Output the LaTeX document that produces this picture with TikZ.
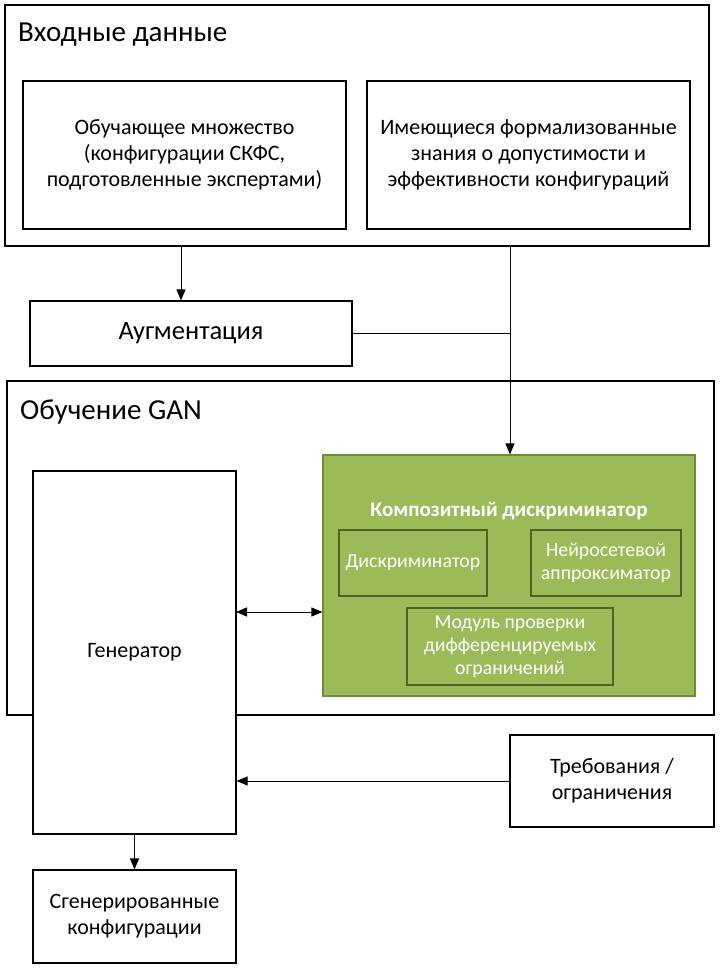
\documentclass[tikz,border=0pt]{standalone}
\usepackage{fontspec}
\setmainfont{Carlito}
\usetikzlibrary{arrows.meta}
\definecolor{gfill}{HTML}{9BBB59}
\definecolor{gdraw}{HTML}{71893F}
\definecolor{gin}{HTML}{4F6228}
\tikzset{
  box/.style={draw=black, line width=1.2pt, fill=white, inner sep=0pt, align=center,
    font=\fontsize{22}{26}\selectfont},
  frame/.style={draw=black, line width=1.2pt, inner sep=0pt},
  ttl/.style={anchor=west, inner sep=0pt, font=\fontsize{29}{32}\selectfont},
  gbox/.style={draw=gin, line width=1.2pt, fill=gfill, inner sep=0pt, align=center,
    text=white, font=\fontsize{19.8}{23}\selectfont},
  arr/.style={line width=1pt, -{Triangle[length=11pt,width=9pt]}},
  arrtwo/.style={line width=1pt, {Triangle[length=11pt,width=9pt]}-{Triangle[length=11pt,width=9pt]}},
  ln/.style={line width=1pt}
}
\begin{document}
\begin{tikzpicture}[x=1pt,y=-1pt]
\useasboundingbox (0,0) rectangle (721,970);
% Input frame
\node[frame, minimum width=704, minimum height=241] (inp) at (357,125.5) {};
\node[ttl] (inpt) at (18,35) {Входные данные};
\node[box, minimum width=323, minimum height=148] (b1) at (184.5,155) {Обучающее множество\\(конфигурации СКФС,\\подготовленные экспертами)};
\node[box, minimum width=323, minimum height=148] (b2) at (528.5,155) {Имеющиеся формализованные\\знания о допустимости и\\эффективности конфигураций};
% Augmentation
\node[box, minimum width=322, minimum height=65, font=\fontsize{26.5}{30}\selectfont] (aug) at (191,333.5) {Аугментация};
% GAN frame
\node[frame, minimum width=707, minimum height=334] (gan) at (360.5,548) {};
\node[ttl] (gant) at (20,411.5) {Обучение GAN};
\node[box, minimum width=203, minimum height=363] (gen) at (134.5,652.5) {Генератор};
% composite discriminator
\node[draw=gdraw, fill=gfill, line width=1.2pt, inner sep=0pt, minimum width=372, minimum height=241] (comp) at (509,575.5) {};
\node[inner sep=0pt, text=white, font=\bfseries\fontsize{21}{24}\selectfont] (compt) at (509,511) {Композитный дискриминатор};
\node[gbox, minimum width=148, minimum height=66] (d1) at (413,563) {Дискриминатор};
\node[gbox, minimum width=150, minimum height=66] (d2) at (606,563) {Нейросетевой\\аппроксиматор};
\node[gbox, minimum width=206, minimum height=77] (d3) at (510,646.5) {Модуль проверки\\дифференцируемых\\ограничений};
% requirements
\node[box, minimum width=204, minimum height=92] (req) at (612,781) {Требования /\\ограничения};
% output
\node[box, minimum width=203, minimum height=93] (out) at (134.5,916.5) {Сгенерированные\\конфигурации};
% connectors
\coordinate (a1) at (181,246);
\coordinate (k1) at (510,246);
\coordinate (m1) at (236,612);
\draw[arr] (a1) -- (a1 |- aug.north);
\draw[arr] (k1) -- (k1 |- comp.north);
\draw[ln] (aug.east) -- (aug.east -| k1);
\draw[arrtwo] (m1) -- (m1 -| comp.west);
\draw[arr] (req.west) -- (req.west -| gen.east);
\draw[arr] (gen.south) -- (out.north);
\end{tikzpicture}
\end{document}
